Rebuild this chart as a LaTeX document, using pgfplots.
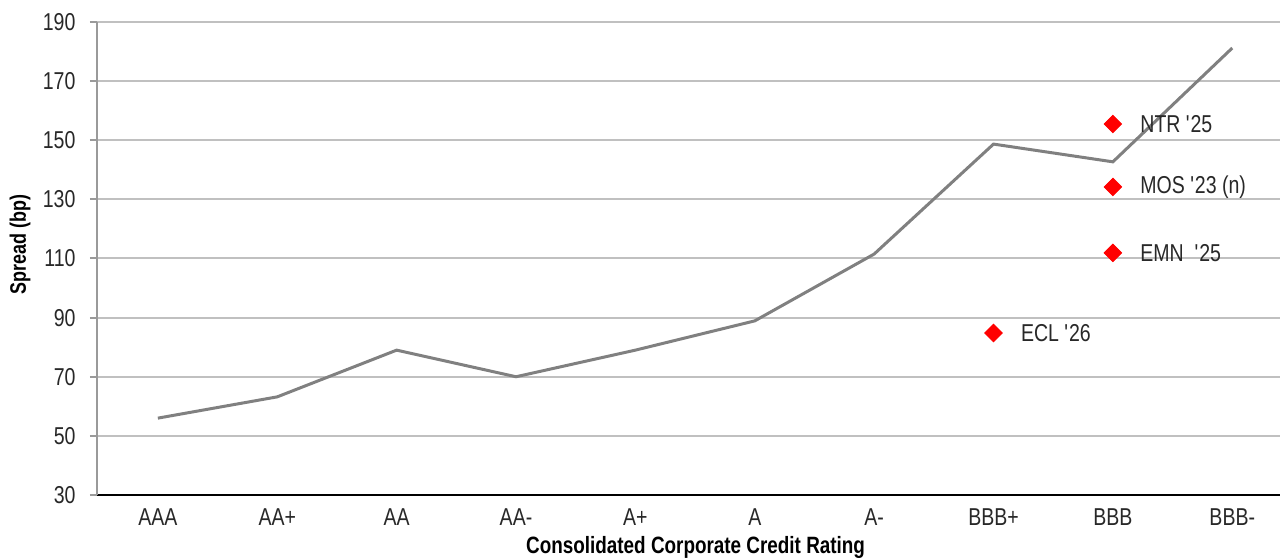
\documentclass[border=0pt]{standalone}
\usepackage{pgfplots}
\pgfplotsset{compat=1.18}
\usepackage{fontspec}
\setmainfont{Liberation Sans}[FakeStretch=0.8]
\definecolor{linegray}{RGB}{128,128,128}
\definecolor{gridgray}{RGB}{192,192,192}
\definecolor{txt}{RGB}{40,40,40}
\begin{document}
\begin{tikzpicture}
\fontsize{12.2}{14}\selectfont
\begin{axis}[
  name=ax, at={(0,0)}, anchor=south west,
  scale only axis, width=591.5pt, height=236.5pt,
  xmin=-0.51, xmax=9.40, ymin=30, ymax=190,
  ytick={30,50,...,190},
  xtick={0,...,9},
  xticklabels={AAA,AA+,AA,AA-,A+,A,A-,BBB+,BBB,BBB-},
  axis lines=left, axis line style={-},
  x axis line style={black, line width=1pt},
  y axis line style={gridgray!80!black, line width=1.2pt},
  ymajorgrids, grid style={gridgray, line width=1pt},
  tick align=outside, major tick length=3.5pt,
  xtick style={draw=none},
  ytick style={gridgray!80!black, line width=1pt},
  tick label style={font=\fontsize{12.2}{14}\selectfont, text=txt},
  /pgf/number format/assume math mode=true,
  yticklabel style={xshift=-3pt},
  xticklabel style={yshift=-2pt, inner sep=1pt},
  xlabel={\bfseries Consolidated Corporate Credit Rating},
  xlabel style={at={(rel axis cs:0.506,-0.1115)}, anchor=center, inner sep=0pt, font=\fontsize{11.8}{13}\selectfont, text=black},
  ylabel={\bfseries Spread (bp)},
  ylabel style={at={(rel axis cs:-0.0651,0.529)}, anchor=center, font=\fontsize{11.2}{13}\selectfont, text=black},
  clip=false,
]
\addplot[linegray, line width=1.5pt, mark=none] coordinates {
  (0,56.0) (1,63.2) (2,79.0) (3,70.0) (4,79.0) (5,88.9) (6,111.5) (7,148.7) (8,142.7) (9,181.2)
};
\addplot[only marks, mark=square*, mark size=3.1pt, mark options={rotate=45, fill=red, draw=red},
  point meta=explicit symbolic,
  nodes near coords, nodes near coords align={anchor=west},
  every node near coord/.append style={anchor=west, xshift=9.5pt, font=\fontsize{12.2}{14}\selectfont, text=txt}]
coordinates {
  (7,84.8) [ECL \textquotesingle26]
  (8,155.5) [NTR \textquotesingle25]
  (8,134.2) [MOS \textquotesingle23 (n)]
  (8,111.9) [EMN\ \ \textquotesingle25]
};
\end{axis}
\pgfresetboundingbox
\path[use as bounding box] (-48.5pt,-31.5pt) rectangle (592.5pt,247.5pt);
\end{tikzpicture}
\end{document}
